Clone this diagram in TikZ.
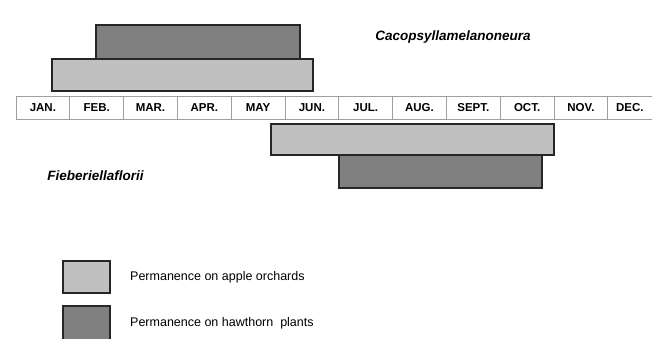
\documentclass[tikz,border=0pt]{standalone}
\usepackage{fontspec}
\setmainfont{Liberation Sans}
\definecolor{lightbar}{HTML}{C0C0C0}
\definecolor{darkbar}{HTML}{808080}
\definecolor{cellline}{HTML}{A0A0A0}
\begin{document}
\begin{tikzpicture}[x=1pt,y=-1pt,
  bar/.style={draw=black!85, line width=1.5pt, rectangle, inner sep=0pt, anchor=center},
  lightbox/.style={bar, fill=lightbar},
  darkbox/.style={bar, fill=darkbar},
  monthcell/.style={draw=cellline, line width=0.8pt, rectangle, inner sep=0pt,
     minimum width=53.8pt, minimum height=23pt, font=\fontsize{11.5}{12}\selectfont\bfseries},
  species/.style={font=\fontsize{13.5}{15}\selectfont\bfseries\itshape, inner sep=0pt},
  legendtext/.style={font=\fontsize{12.5}{14}\selectfont, inner sep=0pt, anchor=west}]
\useasboundingbox (0,0) rectangle (652,339);
\clip (0,0) rectangle (652,339);
% Cacopsylla bars
\node[darkbox, minimum width=204pt, minimum height=34pt] (cdark) at (198,42) {};
\node[lightbox, minimum width=261pt, minimum height=32pt] (clight) at (182.5,75) {};
\node[species] (cname) at (453,37) {Cacopsyllamelanoneura};
% month row
\foreach \m [count=\i from 0] in {JAN.,FEB.,MAR.,APR.,MAY,JUN.,JUL.,AUG.,SEPT.,OCT.,NOV.}{
  \node[monthcell] (m\i) at (42.9+53.8*\i,107.5) {\m};
}
\node[monthcell, minimum width=44.2pt] (m11) at (629.9,107.5) {DEC.};
% Fieberiella bars
\node[lightbox, minimum width=283pt, minimum height=31pt] (flight) at (412.5,139.5) {};
\node[darkbox, minimum width=203pt, minimum height=33pt] (fdark) at (440.5,171.5) {};
\node[species] (fname) at (95.5,176) {Fieberiellaflorii};
% legend
\node[lightbox, minimum width=47pt, minimum height=32pt] (leglight) at (86.5,277) {};
\node[darkbox, minimum width=47pt, minimum height=36pt] (legdark) at (86.5,324) {};
\node[legendtext] (legltext) at (130,277) {Permanence on apple orchards};
\node[legendtext] (legdtext) at (130,323) {Permanence on hawthorn\ \ plants};
\end{tikzpicture}
\end{document}
